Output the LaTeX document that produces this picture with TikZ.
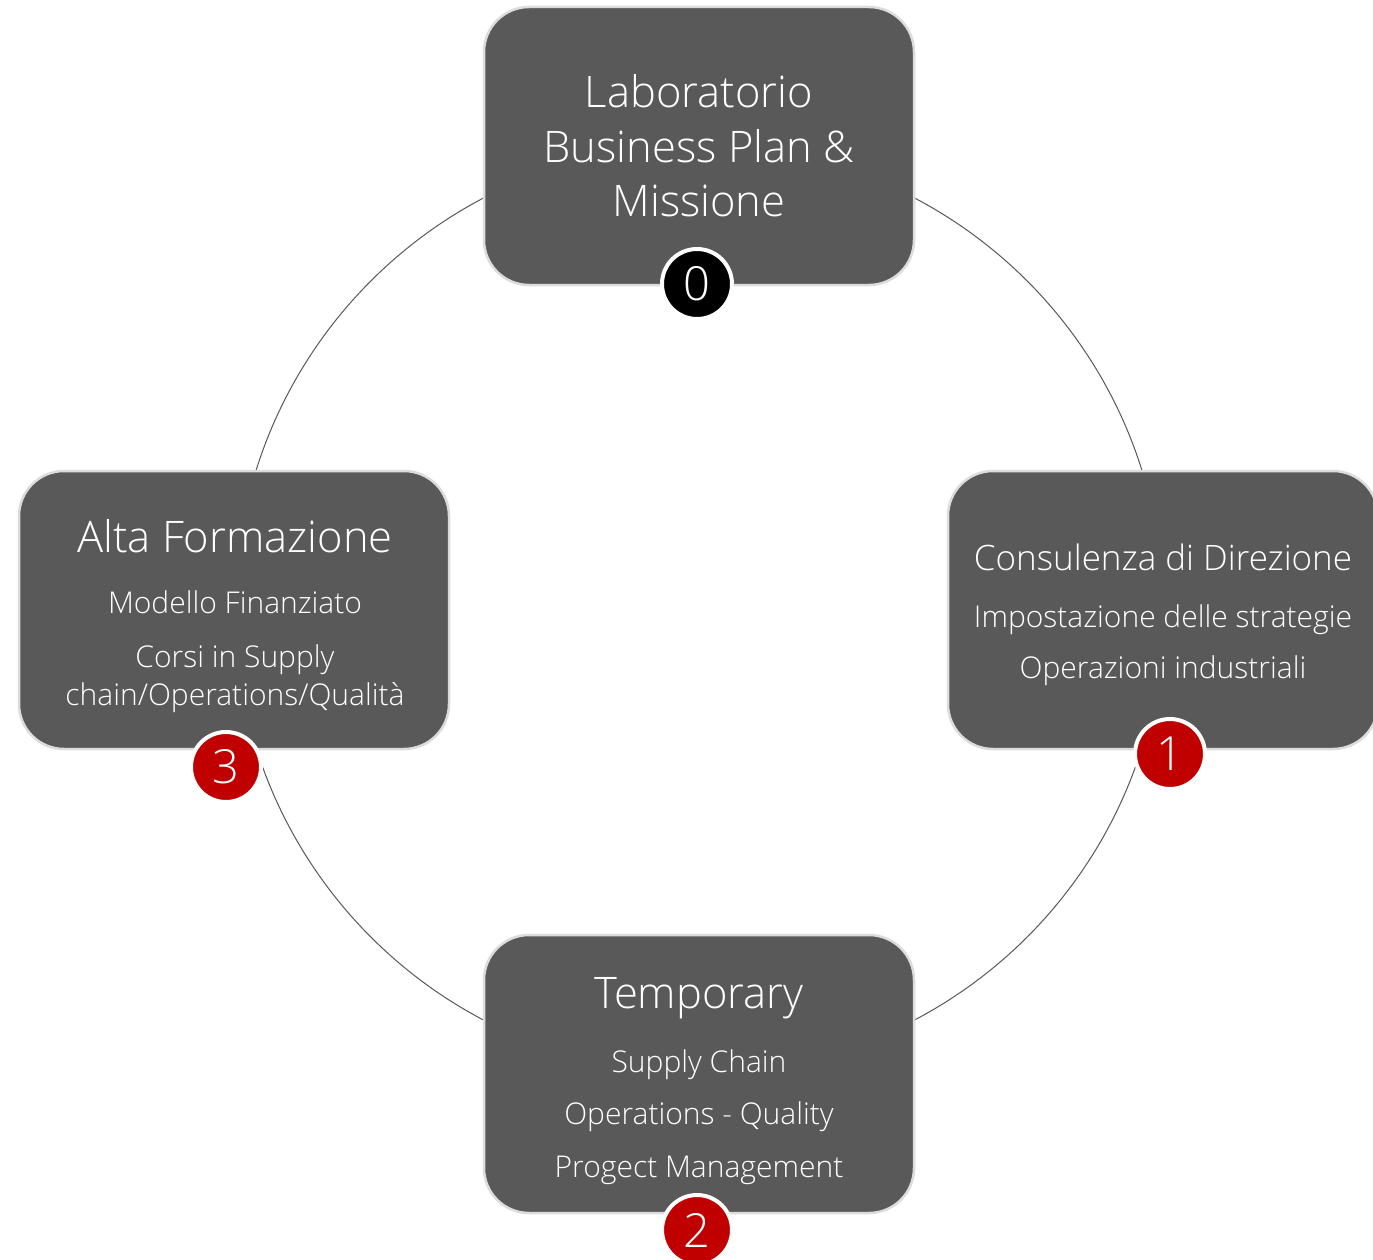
\documentclass[tikz,border=0pt]{standalone}
\usepackage{fontspec}
\setmainfont{Open Sans}[UprightFont=* Light]
\definecolor{boxgray}{HTML}{595959}
\definecolor{cardedge}{HTML}{DCDCDC}
\definecolor{badgered}{HTML}{C00000}
\definecolor{ringgray}{HTML}{595959}
\tikzset{
  card/.style={draw=cardedge, line width=2.5pt, fill=boxgray, rounded corners=45pt,
    minimum width=430pt, minimum height=278pt, inner sep=0pt},
  badge/.style={circle, fill=#1, draw=white, line width=4pt, minimum size=70pt,
    inner sep=0pt, text=white, font=\fontsize{47}{47}\selectfont},
  ttl/.style={text=white, anchor=base, inner sep=0pt, font=\fontsize{43.5}{54}\selectfont},
  sub/.style={text=white, anchor=base, inner sep=0pt, font=\fontsize{30}{36}\selectfont},
  ring/.style={draw=ringgray, line width=1pt}
}
\begin{document}
\begin{tikzpicture}[x=1pt,y=-1pt]
\useasboundingbox (0,0) rectangle (1373,1260);
\clip (0,0) rectangle (1373,1260);
\fill[white] (0,0) rectangle (1373,1260);
\draw[ring] (699,609) circle (464pt);
% cards
\node[card] (lab) at (699,146) {};
\node[card] (cons) at (1163,610) {};
\node[card] (alta) at (234,610) {};
\node[card] (temp) at (699,1074) {};
% top
\node[ttl] (labA) at (699,108) {Laboratorio};
\node[ttl] (labB) at (699,163) {Business Plan \&};
\node[ttl] (labC) at (699,216) {Missione};
% right
\node[ttl, font=\fontsize{35}{40}\selectfont] (consA) at (1163,570) {Consulenza di Direzione};
\node[sub] (consB) at (1163,627) {Impostazione delle strategie};
\node[sub] (consC) at (1163,678) {Operazioni industriali};
% left
\node[ttl] (altaA) at (235,552) {Alta Formazione};
\node[sub] (altaB) at (235,613) {Modello Finanziato};
\node[sub] (altaC) at (235,667) {Corsi in Supply};
\node[sub] (altaD) at (235,705) {chain/Operations/Qualità};
% bottom
\node[ttl] (tempA) at (699,1008) {Temporary};
\node[sub] (tempB) at (699,1072) {Supply Chain};
\node[sub] (tempC) at (699,1124) {Operations - Quality};
\node[sub] (tempD) at (699,1177) {Progect Management};
% badges
\node[badge=black] (b0) at (697,284) {0};
\node[badge=badgered] (b1) at (1170,754) {1};
\node[badge=badgered] (b2) at (697,1230) {2};
\node[badge=badgered] (b3) at (226,767) {3};
\end{tikzpicture}
\end{document}
